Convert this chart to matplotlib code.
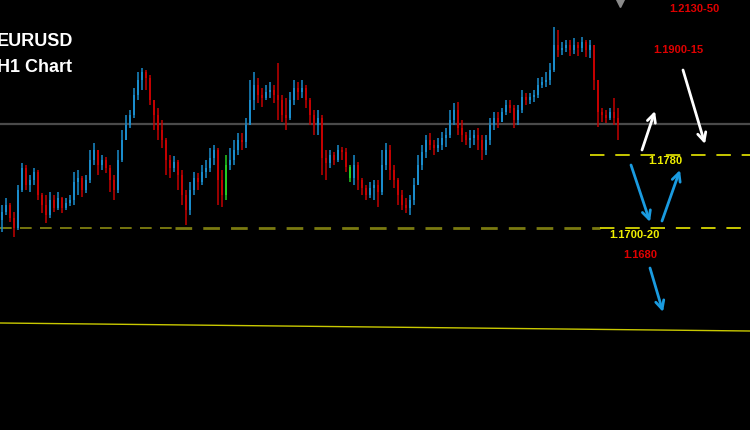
import matplotlib
matplotlib.use("Agg")
import matplotlib.pyplot as plt
import numpy as np

# ---- data (EURUSD H1 candles, prices) ----
first_open = 1.1715
closes = [1.1723,1.1730,1.1717,1.1707,1.1745,1.1767,1.1750,1.1755,1.1763,1.1740,
          1.1730,1.1720,1.1735,1.1727,1.1737,1.1727,1.1732,1.1735,1.1753,1.1757,
          1.1745,1.1755,1.1775,1.1785,1.1770,1.1775,1.1767,1.1755,1.1745,1.1775,
          1.1795,1.1810,1.1820,1.1840,1.1855,1.1863,1.1857,1.1835,1.1820,1.1805,
          1.1795,1.1775,1.1767,1.1773,1.1760,1.1740,1.1725,1.1745,1.1757,1.1753,
          1.1763,1.1767,1.1777,1.1785,1.1755,1.1740,1.1770,1.1775,1.1785,1.1795,
          1.1793,1.1810,1.1835,1.1850,1.1840,1.1837,1.1843,1.1845,1.1840,1.1835,
          1.1820,1.1817,1.1835,1.1847,1.1843,1.1847,1.1835,1.1820,1.1810,1.1817,
          1.1777,1.1772,1.1780,1.1775,1.1785,1.1783,1.1768,1.1757,1.1770,1.1755,
          1.1747,1.1740,1.1747,1.1750,1.1743,1.1770,1.1785,1.1765,1.1755,1.1740,
          1.1730,1.1727,1.1735,1.1750,1.1770,1.1783,1.1795,1.1790,1.1787,1.1790,
          1.1797,1.1800,1.1815,1.1825,1.1807,1.1800,1.1795,1.1797,1.1800,1.1795,
          1.1785,1.1795,1.1810,1.1817,1.1813,1.1823,1.1830,1.1827,1.1815,1.1825,
          1.1838,1.1835,1.1838,1.1840,1.1850,1.1853,1.1855,1.1865,1.1890,1.1885,
          1.1887,1.1890,1.1885,1.1890,1.1887,1.1893,1.1885,1.1890,1.1855,1.1823,
          1.1820,1.1817,1.1823,1.1817,1.1810]
highs_y = [205,198,203,212,185,163,165,175,168,170,193,195,192,195,192,197,198,195,172,170,
           176,175,150,143,150,155,157,165,175,150,130,115,110,88,72,68,70,75,100,108,
           120,138,155,156,160,170,190,182,172,173,165,160,148,145,148,170,155,148,140,133,
           133,118,80,72,78,88,85,82,85,63,95,98,92,80,82,80,85,98,110,110,
           115,150,150,152,145,147,148,165,155,162,178,185,182,180,180,150,143,145,165,178,
           190,198,195,178,155,145,135,133,140,138,132,128,110,103,102,120,132,130,130,128,
           135,135,118,112,112,108,100,100,105,105,90,93,93,90,78,77,72,63,27,30,
           42,40,40,38,42,37,40,40,45,80,108,110,108,98,108]
lows_y = [232,215,222,237,230,192,190,192,185,200,213,223,218,212,210,213,210,206,205,195,
          197,193,183,165,175,170,173,192,200,193,162,140,128,118,100,90,90,105,130,140,
          148,175,178,172,190,205,225,215,195,190,185,178,172,165,205,207,200,170,165,155,
          150,148,125,110,103,107,100,98,103,120,122,130,120,105,100,98,108,125,135,135,
          175,180,168,165,162,160,172,182,185,190,195,200,198,200,207,195,170,180,188,205,
          210,213,215,205,185,170,158,150,155,152,150,147,138,125,135,142,145,148,145,150,
          160,155,145,130,128,120,115,113,128,125,113,105,104,102,98,88,87,85,72,57,
          55,52,56,54,56,52,57,58,90,127,122,123,120,125,140]
highs = [round(1.1935 - v / 10000, 4) for v in highs_y]
lows = [round(1.1935 - v / 10000, 4) for v in lows_y]
green_idx = [56, 87]

gray_level = 1.1811
level_1780 = 1.1780
level_1710 = 1.1707
trend_start, trend_end = 1.1612, 1.1604
labels_red = ["1.2130-50", "1.1900-15", "1.1680"]
labels_yellow = ["1.1780", "1.1700-20"]

# ---- figure ----
W, H = 750, 430
fig = plt.figure(figsize=(W / 100, H / 100), dpi=100, facecolor="black")
ax = fig.add_axes([0, 0, 1, 1], facecolor="black")
ax.set_axis_off()

def px(x):  # pixel x -> candle index coordinate
    return (x - 2) / 4.0

def py(y):  # pixel y -> price
    return 1.1935 - y / 10000.0

ax.set_xlim(px(0), px(W))
ax.set_ylim(py(H), py(0))

n = min(len(closes), len(highs), len(lows))
c = np.array(closes[:n])
o = np.concatenate([[first_open], c[:-1]])
h = np.maximum(np.array(highs[:n]), np.maximum(o, c))
l = np.minimum(np.array(lows[:n]), np.minimum(o, c))
idx = np.arange(n)

BLUE = "#1a8ccc"
RED = "#c40000"
GREEN = "#22cc22"
cols = [BLUE if c[i] >= o[i] else RED for i in range(n)]
for g in green_idx:
    if g < n:
        cols[g] = GREEN

# reference lines
ax.axhline(gray_level, color="#4a4a4a", lw=1.6, zorder=1)
ax.plot([px(0), px(175)], [level_1710, level_1710], color="#8a8a10", lw=1.2,
        dashes=(7, 5), zorder=1)
ax.plot([px(175), px(600)], [level_1710, level_1710], color="#7a7a10", lw=2.0,
        dashes=(6, 4), zorder=1)
ax.plot([px(600), px(W)], [level_1710, level_1710], color="#d8d800", lw=1.3,
        dashes=(8, 6), zorder=1)
ax.plot([px(590), px(W)], [level_1780, level_1780], color="#d8d800", lw=1.3,
        dashes=(8, 6), zorder=1)
ax.plot([px(0), px(W)], [trend_start, trend_end], color="#c8c800", lw=1.0, zorder=1)

# candles
ax.vlines(idx, l, h, colors=cols, lw=1.1, zorder=3)
body_h = np.maximum(np.abs(c - o), 0.00012)
ax.bar(idx, body_h, bottom=np.minimum(o, c), width=0.72, color=cols,
       edgecolor="none", zorder=4)

# marker at top
ax.plot([px(620)], [py(1)], marker="v", color="#8a8a8a", ms=8, zorder=5,
        clip_on=True)

# titles
font = dict(family=["Liberation Sans", "DejaVu Sans"], weight="bold")
ax.text(px(-3), py(42), "EURUSD", color="white", fontsize=13, va="center",
        ha="left", **font)
ax.text(px(-3), py(68), "H1 Chart", color="white", fontsize=13, va="center",
        ha="left", **font)

# level labels
ax.text(px(694), py(9), labels_red[0], color="#e00000", fontsize=8,
        ha="center", va="center", **font)
ax.text(px(678), py(50), labels_red[1], color="#e00000", fontsize=8,
        ha="center", va="center", **font)
ax.text(px(665), py(161), labels_yellow[0], color="#f0f000", fontsize=8,
        ha="center", va="center", **font)
ax.text(px(634), py(235), labels_yellow[1], color="#f0f000", fontsize=8,
        ha="center", va="center", **font)
ax.text(px(640), py(255), labels_red[2], color="#e00000", fontsize=8,
        ha="center", va="center", **font)

# arrows
def arrow(x0, y0, x1, y1, color):
    ax.annotate("", xy=(px(x1), py(y1)), xytext=(px(x0), py(y0)),
                arrowprops=dict(arrowstyle="->,head_length=0.6,head_width=0.3",
                                color=color, lw=2.0, shrinkA=0, shrinkB=0),
                zorder=6)

arrow(642, 150, 655, 111, "white")
arrow(683, 70, 705, 144, "white")
arrow(631, 165, 650, 222, "#1a9be0")
arrow(662, 221, 680, 170, "#1a9be0")
arrow(650, 268, 663, 312, "#1a9be0")

fig.savefig("out.png", dpi=100, facecolor="black")
